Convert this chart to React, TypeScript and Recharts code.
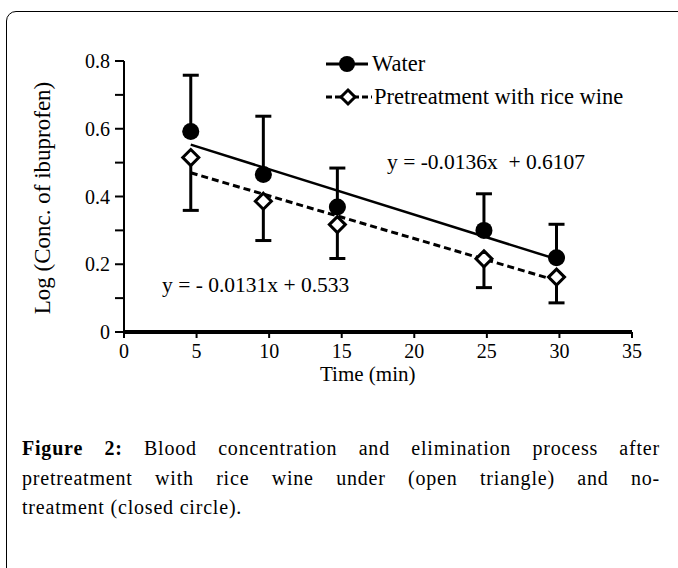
import React from 'react'
import {
  ComposedChart,
  Scatter,
  Line,
  XAxis,
  YAxis,
  ErrorBar,
} from 'recharts'

// sampling times (min)
const times = [4.6, 9.6, 14.7, 24.8, 29.8]

const waterMean = [0.592, 0.465, 0.369, 0.3, 0.219]
const waterSD = [0.166, 0.172, 0.115, 0.108, 0.099]

const riceMean = [0.515, 0.386, 0.317, 0.216, 0.162]
const riceSD = [0.156, 0.116, 0.1, 0.085, 0.076]

// fitted lines, endpoints as drawn
const fitTimes = [4.6, 29.8]
const waterFit = [0.553, 0.215]
const riceFit = [0.47, 0.152]

const xTicks = [0, 5, 10, 15, 20, 25, 30, 35]
const yTicks = [0, 0.1, 0.2, 0.3, 0.4, 0.5, 0.6, 0.7, 0.8]

const FONT = '"Liberation Serif", "Times New Roman", serif'

const waterData = times.map((t, i) => ({ x: t, y: waterMean[i], err: [0, waterSD[i]] }))
const riceData = times.map((t, i) => ({ x: t, y: riceMean[i], err: [riceSD[i], 0] }))
const waterFitData = fitTimes.map((t, i) => ({ x: t, y: waterFit[i] }))
const riceFitData = fitTimes.map((t, i) => ({ x: t, y: riceFit[i] }))

const Empty = () => <g />

const Dot = (props: any) => <circle cx={props.cx} cy={props.cy} r={8.5} fill="#000" />

const Diamond = (props: any) => {
  const { cx, cy } = props
  const s = 8
  return (
    <path
      d={`M${cx},${cy - s}L${cx + s},${cy}L${cx},${cy + s}L${cx - s},${cy}Z`}
      fill="#fff"
      stroke="#000"
      strokeWidth={3}
    />
  )
}

const yFmt = (v: number) => {
  const k = Math.round(v * 10)
  if (k % 2 !== 0) return ''
  return k === 0 ? '0' : (k / 10).toFixed(1)
}

export default function App() {
  return (
    <div style={{ position: 'absolute', left: 0, top: 0, width: 678, height: 568, overflow: 'hidden', background: '#fff', fontFamily: FONT }}>
      <div
        style={{
          position: 'absolute',
          left: 6,
          top: 11,
          width: 720,
          height: 620,
          border: '1.5px solid #000',
          borderRadius: 10,
        }}
      />

      <div style={{ position: 'absolute', left: 0, top: 0 }}>
        <ComposedChart
          width={678}
          height={400}
          margin={{ top: 61, right: 46, left: 64, bottom: 28 }}
        >
          <XAxis
            type="number"
            dataKey="x"
            domain={[0, 35]}
            ticks={xTicks}
            height={40}
            stroke="#000"
            axisLine={{ stroke: '#000', strokeWidth: 4 }}
            tickLine={{ stroke: '#000', strokeWidth: 2 }}
            tickSize={6}
            tick={{ fill: '#000', fontSize: 20, fontFamily: FONT, dy: 4 }}
            allowDataOverflow
          />
          <YAxis
            type="number"
            dataKey="y"
            domain={[0, 0.8]}
            ticks={yTicks}
            width={60}
            interval={0}
            tickFormatter={yFmt}
            axisLine={{ stroke: '#000', strokeWidth: 2 }}
            tickLine={{ stroke: '#000', strokeWidth: 2 }}
            tickSize={9}
            tick={{ fill: '#000', fontSize: 20, fontFamily: FONT, dx: -3 }}
            allowDataOverflow
          />

          <Scatter data={waterData} shape={<Empty />} isAnimationActive={false}>
            <ErrorBar dataKey="err" direction="y" width={8} stroke="#000" strokeWidth={3} isAnimationActive={false} />
          </Scatter>
          <Scatter data={riceData} shape={<Empty />} isAnimationActive={false}>
            <ErrorBar dataKey="err" direction="y" width={8} stroke="#000" strokeWidth={3} isAnimationActive={false} />
          </Scatter>

          <Line data={waterFitData} dataKey="y" type="linear" stroke="#000" strokeWidth={2.5} dot={false} isAnimationActive={false} />
          <Line data={riceFitData} dataKey="y" type="linear" stroke="#000" strokeWidth={3} strokeDasharray="7 4" dot={false} isAnimationActive={false} />

          <Scatter data={waterData} shape={<Dot />} isAnimationActive={false} />
          <Scatter data={riceData} shape={<Diamond />} isAnimationActive={false} />
        </ComposedChart>
      </div>

      {/* legend */}
      <div style={{ position: 'absolute', left: 324, top: 48 }}>
        <div style={{ display: 'flex', alignItems: 'center', height: 32 }}>
          <svg width={48} height={22}>
            <line x1={2} y1={11} x2={44} y2={11} stroke="#000" strokeWidth={3} />
            <circle cx={23} cy={11} r={8} fill="#000" />
          </svg>
          <span style={{ fontSize: 22.5, lineHeight: '22px' }}>Water</span>
        </div>
        <div style={{ display: 'flex', alignItems: 'center', height: 34 }}>
          <svg width={50} height={22}>
            <line x1={2} y1={11} x2={48} y2={11} stroke="#000" strokeWidth={3} strokeDasharray="6 3" />
            <path d="M24,4L31,11L24,18L17,11Z" fill="#fff" stroke="#000" strokeWidth={3} />
          </svg>
          <span style={{ fontSize: 22.5, lineHeight: '22px' }}>Pretreatment with rice wine</span>
        </div>
      </div>

      {/* fit equations */}
      <div style={{ position: 'absolute', left: 387, top: 150, fontSize: 21.5, whiteSpace: 'pre' }}>y = -0.0136x  + 0.6107</div>
      <div style={{ position: 'absolute', left: 162, top: 273, fontSize: 21.5, whiteSpace: 'pre' }}>y = - 0.0131x + 0.533</div>

      {/* axis titles */}
      <div style={{ position: 'absolute', left: 320, top: 362, fontSize: 21 }}>Time (min)</div>
      <div
        style={{
          position: 'absolute',
          left: 43,
          top: 198,
          fontSize: 23,
          whiteSpace: 'nowrap',
          transform: 'translate(-50%, -50%) rotate(-90deg)',
        }}
      >
        Log (Conc. of ibuprofen)
      </div>

      {/* caption */}
      <div style={{ position: 'absolute', left: 22, top: 434, width: 638, fontSize: 20, lineHeight: '29.5px', letterSpacing: 0.8 }}>
        <div style={{ textAlign: 'justify', textAlignLast: 'justify' }}>
          <b>Figure 2:</b> Blood concentration and elimination process after
        </div>
        <div style={{ textAlign: 'justify', textAlignLast: 'justify' }}>
          pretreatment with rice wine under (open triangle) and no-
        </div>
        <div>treatment (closed circle).</div>
      </div>
    </div>
  )
}
